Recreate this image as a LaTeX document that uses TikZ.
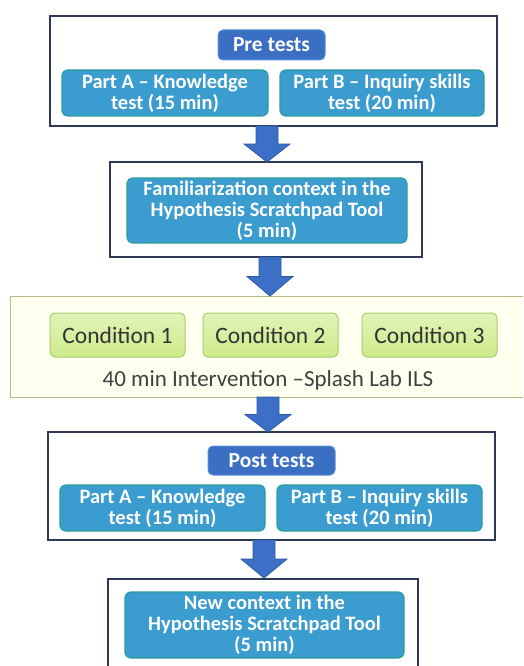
\documentclass[tikz,border=0pt]{standalone}
\usepackage{fontspec}
\setmainfont{Carlito}
\usetikzlibrary{calc}
\definecolor{outerline}{HTML}{2E3A55}
\definecolor{bluefill}{HTML}{3A9CCF}
\definecolor{blueline}{HTML}{2A9E9A}
\definecolor{headfill}{HTML}{3A6FC4}
\definecolor{headline}{HTML}{5A8FD8}
\definecolor{arrowfill}{HTML}{3B70C6}
\definecolor{arrowline}{HTML}{2C5AA8}
\definecolor{condfill}{HTML}{CDEB8A}
\definecolor{condline}{HTML}{A8CC70}
\definecolor{intfill}{HTML}{FFFFF0}
\definecolor{intline}{HTML}{B8B88A}
\tikzset{
  outerbox/.style={draw=outerline, line width=2pt, fill=white},
  partbox/.style={draw=blueline, line width=1.2pt, fill=bluefill, rounded corners=6pt,
     text=white, font=\bfseries\fontsize{20.5}{21}\selectfont, align=center, inner sep=0pt},
  headbox/.style={draw=headline, line width=1pt, fill=headfill, rounded corners=5pt,
     text=white, font=\bfseries\fontsize{21.5}{22}\selectfont, inner sep=0pt},
  condbox/.style={draw=condline, line width=1pt, top color=condfill!60!white, bottom color=condfill,
     rounded corners=5pt, text=black!80, font=\fontsize{23.5}{24}\selectfont, inner sep=0pt},
  blockarrow/.style={fill=arrowfill, draw=arrowline, line width=0.8pt},
}
\newcommand{\blockarr}[3]{% from coordinate, to coordinate, head start fraction
  \path let \p1=(#1), \p2=(#2) in
    [blockarrow] (\x1-11pt,\y1) -- (\x1+11pt,\y1) -- (\x1+11pt,{\y1+(\y2-\y1)*#3}) --
    (\x1+23pt,{\y1+(\y2-\y1)*#3}) -- (\x1,\y2) -- (\x1-23pt,{\y1+(\y2-\y1)*#3}) --
    (\x1-11pt,{\y1+(\y2-\y1)*#3}) -- cycle;
}
\begin{document}
\begin{tikzpicture}[x=1pt,y=-1pt]
\useasboundingbox (0,0) rectangle (523,666);
\clip (0,0) rectangle (523,666);
% box 1
\node[outerbox, minimum width=447pt, minimum height=110pt, inner sep=0pt] (pre) at (273.5,71) {};
\node[headbox, minimum width=107pt, minimum height=30pt] (prehead) at (271.5,45) {Pre tests};
\node[partbox, minimum width=206pt, minimum height=46pt] (preA) at (165,93) {Part A -- Knowledge\\test (15 min)};
\node[partbox, minimum width=204pt, minimum height=46pt] (preB) at (382,93) {Part B -- Inquiry skills\\test (20 min)};
% box 2
\node[outerbox, minimum width=312pt, minimum height=95pt, inner sep=0pt] (fam) at (266,209.5) {};
\node[partbox, minimum width=280pt, minimum height=65pt] (famin) at (267,210.5) {Familiarization context in the\\Hypothesis Scratchpad Tool\\(5 min)};
% box 3
\node[draw=intline, line width=1pt, fill=intfill, minimum width=530pt, minimum height=101pt, inner sep=0pt] (int) at (275,346.5) {};
\node[condbox, minimum width=135pt, minimum height=44pt] (c1) at (117.5,335) {Condition 1};
\node[condbox, minimum width=135pt, minimum height=44pt] (c2) at (270.5,335) {Condition 2};
\node[condbox, minimum width=135pt, minimum height=44pt] (c3) at (429.5,335) {Condition 3};
\node[text=black!75, font=\fontsize{23}{24}\selectfont, inner sep=0pt] (intlabel) at (268,380) {40 min Intervention --Splash Lab ILS};
% box 4
\node[outerbox, minimum width=447pt, minimum height=108pt, inner sep=0pt] (post) at (271.5,486) {};
\node[headbox, minimum width=127pt, minimum height=29pt] (posthead) at (271.5,460.5) {Post tests};
\node[partbox, minimum width=205pt, minimum height=46pt] (postA) at (162.5,508) {Part A -- Knowledge\\test (15 min)};
\node[partbox, minimum width=205pt, minimum height=46pt] (postB) at (379.5,508) {Part B -- Inquiry skills\\test (20 min)};
% box 5
\node[outerbox, minimum width=310pt, minimum height=100pt, inner sep=0pt, anchor=north] (new) at (263,578) {};
\node[partbox, minimum width=279pt, minimum height=66pt] (newin) at (264.5,625) {New context in the\\Hypothesis Scratchpad Tool\\(5 min)};
% arrows
\coordinate (a1s) at (267,126); \coordinate (a1e) at (267,162);
\coordinate (a2s) at (270,257); \coordinate (a2e) at (270,296);
\coordinate (a3s) at (268,397); \coordinate (a3e) at (268,432);
\coordinate (a4s) at (264,540); \coordinate (a4e) at (264,578);
\blockarr{a1s}{a1e}{0.5}
\blockarr{a2s}{a2e}{0.5}
\blockarr{a3s}{a3e}{0.5}
\blockarr{a4s}{a4e}{0.5}
\end{tikzpicture}
\end{document}
